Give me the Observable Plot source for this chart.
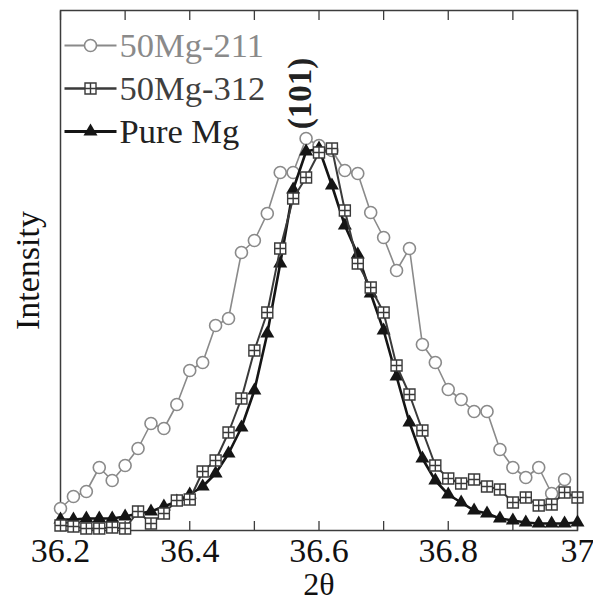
<!DOCTYPE html>
<html><head><meta charset="utf-8">
<script src="https://cdn.jsdelivr.net/npm/d3@7"></script>
<script src="https://cdn.jsdelivr.net/npm/@observablehq/plot@0.6"></script>
<style>body{margin:0;background:#fff}</style>
</head><body><div id="chart"></div>
<script>
// 2θ sampling positions (degrees)
const twoTheta = [36.20,36.22,36.24,36.26,36.28,36.30,36.32,36.34,36.36,36.38,36.40,36.42,36.44,36.46,36.48,36.50,36.52,36.54,36.56,36.58,36.60,36.62,36.64,36.66,36.68,36.70,36.72,36.74,36.76,36.78,36.80,36.82,36.84,36.86,36.88,36.90,36.92,36.94,36.96,36.98,37.00];
// Intensity (arbitrary units)
const mg211 = [22,34,39,63,50,65,82,107,102,126,160,168,205,212,278,290,317,358,358,392,385,380,360,357,318,293,260,282,186,168,141,131,119,119,81,63,53,63,37,51];
const mg312 = [5,4,2,2,3,2,19,7,17,30,31,59,70,98,132,180,218,282,332,353,378,382,320,267,243,218,165,136,100,65,52,47,51,44,41,28,33,25,26,38,33];
const pureMg = [11,11,12,12,12,14,17,19,24,29,36,44,57,77,103,140,197,267,341,379,382,345,305,276,237,200,154,108,72,50,36,28,20,17,12,10,8,7,7,7,8];
const seriesNames = ["50Mg-211","50Mg-312","Pure Mg"];
const minorTicks = [36.2,36.3,36.4,36.5,36.6,36.7,36.8,36.9,37.0];
const labelTicks = [36.2,36.4,36.6,36.8,37.0];
const xLabel = "2θ";
const yLabel = "Intensity";
const peakLabel = [{x:36.571, y:437, text:"(101)"}];

const squareGrid = {draw(ctx, size){const h=Math.sqrt(size/Math.PI);ctx.moveTo(-h,-h);ctx.lineTo(h,-h);ctx.lineTo(h,h);ctx.lineTo(-h,h);ctx.closePath();ctx.moveTo(0,-h);ctx.lineTo(0,h);ctx.moveTo(-h,0);ctx.lineTo(h,0);}};
const hline = {draw(ctx){ctx.moveTo(-26,0);ctx.lineTo(26,0);}};

const styles = {
  "50Mg-211": {line:"#8a8a8a", lw:1.6, symbol:"circle", r:6, fill:"white", stroke:"#8a8a8a", sw:1.6, text:"#8a8a8a"},
  "50Mg-312": {line:"#3a3a3a", lw:2, symbol:squareGrid, r:5.5, fill:"white", stroke:"#3a3a3a", sw:1.4, text:"#3f3f3f"},
  "Pure Mg": {line:"#151515", lw:2.6, symbol:"triangle", r:5.2, fill:"#151515", stroke:"none", sw:0, text:"#222"}
};
const valuesBy = {"50Mg-211": mg211, "50Mg-312": mg312, "Pure Mg": pureMg};
const rows = name => valuesBy[name].map((v,i)=>({x:twoTheta[i], y:v}));

const font = "Liberation Serif, Times New Roman, serif";
const FS = 34;
const marks = [
  Plot.frame({stroke:"#3c3c3c", strokeWidth:1.5}),
  Plot.axisX({anchor:"bottom", ticks:minorTicks, tickSize:-9, tickFormat:()=>"", label:null, stroke:"#3c3c3c", strokeWidth:1.3}),
  Plot.axisX({anchor:"top", ticks:minorTicks, tickSize:-9, tickFormat:()=>"", label:null, stroke:"#3c3c3c", strokeWidth:1.3}),
  Plot.axisX({anchor:"bottom", ticks:labelTicks, tickSize:0, tickPadding:7, tickFormat:d=>String(+d.toFixed(1)), label:null, fontSize:FS, fontFamily:font, fontVariant:"normal", fill:"#111"}),
  Plot.axisY({ticks:[], label:null, tickSize:0}),
  Plot.text([xLabel], {frameAnchor:"bottom", lineAnchor:"middle", textAnchor:"middle", dy:54, fontSize:32, fontFamily:font, fill:"#111"}),
  Plot.text([yLabel], {frameAnchor:"left", textAnchor:"middle", lineAnchor:"middle", dx:-32, rotate:-90, fontSize:FS, fontFamily:font, fill:"#111"}),
  Plot.text(peakLabel, {x:"x", y:"y", text:"text", rotate:-90, fontSize:33, fontFamily:font, fontWeight:"bold", fill:"#222"})
];
const drawOrder = ["50Mg-211","Pure Mg","50Mg-312"];
for (const name of drawOrder) {
  const s = styles[name];
  marks.push(Plot.line(rows(name), {x:"x", y:"y", stroke:s.line, strokeWidth:s.lw}));
  marks.push(Plot.dot(rows(name), {x:"x", y:"y", symbol:s.symbol, r:s.r, fill:s.fill, stroke:s.stroke, strokeWidth:s.sw}));
}
seriesNames.forEach((name,i)=>{
  const s = styles[name];
  const dy = 35 + i*43;
  marks.push(Plot.dot([0], {frameAnchor:"top-left", dx:30, dy, symbol:hline, stroke:s.line, strokeWidth:s.lw+0.4, fill:"none"}));
  marks.push(Plot.dot([0], {frameAnchor:"top-left", dx:30, dy, symbol:s.symbol, r:s.r, fill:s.fill, stroke:s.stroke, strokeWidth:s.sw}));
  marks.push(Plot.text([name], {frameAnchor:"top-left", dx:59, dy, textAnchor:"start", lineAnchor:"middle", fontSize:34.5, fontFamily:font, fill:s.text}));
});

const chart = Plot.plot({
  width:593, height:602,
  marginLeft:60, marginRight:16, marginTop:10, marginBottom:72,
  style:{fontFamily:font, fontSize:FS+"px", background:"white", overflow:"visible"},
  x:{domain:[36.2,37]},
  y:{domain:[0,520]},
  marks
});
d3.select(chart).selectAll("text").style("font-family", font);
document.getElementById("chart").append(chart);
</script>
</body></html>
